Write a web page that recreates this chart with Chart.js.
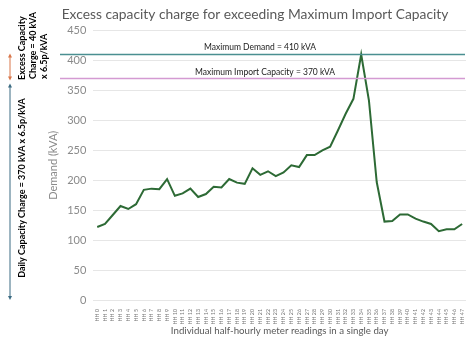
<!DOCTYPE html>
<html>
<head>
<meta charset="utf-8">
<script src="https://cdn.jsdelivr.net/npm/chart.js@4"></script>
<style>
  body { margin: 0; background: #fff; }
  #wrap { width: 474px; height: 344px; }
</style>
</head>
<body>
<div id="wrap"><canvas id="grafico"></canvas></div>
<script>
const periodos = [];
for (let i = 0; i < 48; i++) periodos.push("HH " + i);

const demanda = [122, 127, 142, 157, 152, 160, 184, 186, 185, 202,
                 174, 178, 186, 172, 177, 189, 188, 202, 196, 194,
                 220, 209, 215, 207, 213, 225, 222, 242, 242, 250,
                 256, 283, 311, 336, 410, 333, 197, 131, 132, 143,
                 143, 136, 131, 127, 115, 118, 118, 127];

const yTicks = [0, 50, 100, 150, 200, 250, 300, 350, 400, 450];

const maxDemanda = 410;
const capacidadeImport = 370;

const fonte = "Lato, 'Open Sans', sans-serif";

// linhas de referencia + anotacoes da esquerda
const anotacoes = {
  id: "anotacoes",
  afterDatasetsDraw(chart) {
    const c = chart.ctx;
    const y = chart.scales.y;
    const area = chart.chartArea;
    const yMax = y.getPixelForValue(maxDemanda);
    const yImp = y.getPixelForValue(capacidadeImport);
    const yZero = y.getPixelForValue(0);

    c.save();
    c.lineWidth = 1.5;
    c.strokeStyle = "#4a8f91";
    c.beginPath(); c.moveTo(60, yMax); c.lineTo(area.right - 1, yMax); c.stroke();
    c.strokeStyle = "#d49ad2";
    c.beginPath(); c.moveTo(60, yImp); c.lineTo(area.right - 1, yImp); c.stroke();

    c.fillStyle = "#222";
    c.font = "8.5px " + fonte;
    c.textAlign = "center";
    c.textBaseline = "bottom";
    c.fillText("Maximum Demand = " + maxDemanda + " kVA", 260, yMax - 3);
    c.fillText("Maximum Import Capacity = " + capacidadeImport + " kVA", 265, yImp - 2);

    // setas
    function seta(x, y1, y2, cor) {
      c.strokeStyle = cor;
      c.fillStyle = cor;
      c.lineWidth = 1;
      c.beginPath(); c.moveTo(x, y1 + 2); c.lineTo(x, y2 - 2); c.stroke();
      c.beginPath(); c.moveTo(x, y1); c.lineTo(x - 2, y1 + 4); c.lineTo(x + 2, y1 + 4); c.fill();
      c.beginPath(); c.moveTo(x, y2); c.lineTo(x - 2, y2 - 4); c.lineTo(x + 2, y2 - 4); c.fill();
    }
    seta(10, yMax - 1, yImp + 2, "#d9774a");
    seta(10, yImp + 5, yZero, "#3b6b82");

    c.fillStyle = "#000";
    c.font = "bold 9px " + fonte;
    c.textBaseline = "middle";
    c.save();
    c.rotate(-Math.PI / 2);
    c.textAlign = "left";
    c.fillText("Excess Capacity", -80, 22);
    c.fillText("Charge = 40 kVA", -79, 33);
    c.fillText("x 6.5p/kVA", -79, 44);
    c.textAlign = "center";
    c.fillText("Daily Capacity Charge = 370 kVA x 6.5p/kVA", -188, 22);
    c.restore();
    c.restore();
  }
};

new Chart(document.getElementById("grafico"), {
  type: "line",
  data: {
    labels: periodos,
    datasets: [{
      label: "Demand",
      data: demanda,
      borderColor: "#2d6a35",
      borderWidth: 2,
      pointRadius: 0,
      tension: 0
    }]
  },
  options: {
    responsive: true,
    maintainAspectRatio: false,
    animation: false,
    layout: { padding: { left: 44, right: 8, top: 0, bottom: 0 } },
    plugins: {
      legend: { display: false },
      tooltip: { enabled: false },
      title: {
        display: true,
        text: "Excess capacity charge for exceeding Maximum Import Capacity",
        color: "#595959",
        font: { family: fonte, size: 13.8, weight: "normal" },
        padding: { top: 6, bottom: 8 }
      }
    },
    scales: {
      x: {
        offset: true,
        afterFit(scale) { scale.height = 44; },
        grid: { display: false },
        border: { display: false },
        ticks: {
          color: "#777",
          font: { family: fonte, size: 5.3 },
          maxRotation: 90, minRotation: 90,
          autoSkip: false,
          padding: 1
        },
        title: {
          display: true,
          text: "Individual half-hourly meter readings in a single day",
          color: "#595959",
          font: { family: fonte, size: 9.7 },
          padding: { top: 0, bottom: 7 }
        }
      },
      y: {
        min: 0, max: 450,
        afterBuildTicks(scale) { scale.ticks = yTicks.map(v => ({ value: v })); },
        grid: { color: "#e6e6e6", drawTicks: false },
        border: { display: false },
        ticks: {
          color: "#8a8a8a",
          font: { family: fonte, size: 11 },
          padding: 7
        },
        title: {
          display: true,
          text: "Demand (kVA)",
          color: "#8a8a8a",
          font: { family: fonte, size: 11 },
          padding: { top: 3, bottom: 0 }
        }
      }
    }
  },
  plugins: [anotacoes]
});
</script>
</body>
</html>
